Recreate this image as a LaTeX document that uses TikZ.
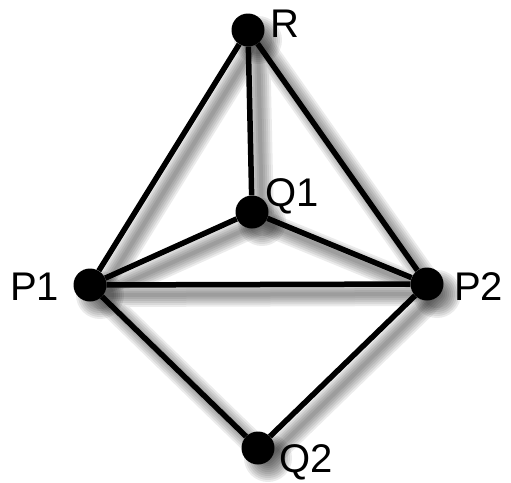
\documentclass[tikz,border=0pt]{standalone}
\usepackage{fontspec}
\setmainfont{Liberation Sans}
\usetikzlibrary{backgrounds}

\begin{document}
\begin{tikzpicture}[x=1pt, y=-1pt,
    vertex/.style={circle, fill=black, minimum size=33pt, inner sep=0pt},
    lbl/.style={font=\fontsize{40}{40}\selectfont, inner sep=0pt, anchor=base west},
    link/.style={line width=5.5pt},
    haze/.style={line width=#1, draw=black, opacity=0.08, line cap=round, line join=round}]
    \useasboundingbox (0,0) rectangle (511,482);

    \node[vertex] (R)  at (248,30)  {};
    \node[vertex] (Q1) at (252,212) {};
    \node[vertex] (P1) at (90,285)  {};
    \node[vertex] (P2) at (427,284) {};
    \node[vertex] (Q2) at (258,448) {};

    \node[lbl] (lR)  at (270,37)  {R};
    \node[lbl] (lQ1) at (265,206) {Q1};
    \node[lbl] (lP1) at (10,300)  {P1};
    \node[lbl] (lP2) at (454,300) {P2};
    \node[lbl] (lQ2) at (279,472) {Q2};

    \draw[link] (R) -- (P1)
                (R) -- (P2)
                (R) -- (Q1)
                (Q1) -- (P1)
                (Q1) -- (P2)
                (P1) -- (P2)
                (P1) -- (Q2)
                (P2) -- (Q2);

    % soft shadow
    \foreach \n in {R,Q1,P1,P2,Q2}
        \coordinate (s\n) at ([shift={(10,10)}]\n.center);
    \begin{scope}[on background layer]
    \foreach \w in {4,8,12,16,20,24}{
        \draw[haze=\w pt] (sR) -- (sP1) -- (sQ2) -- (sP2) -- cycle
                          (sR) -- (sQ1) (sP1) -- (sQ1) -- (sP2)
                          (sP1) -- (sP2);
        \fill[black, opacity=0.08] (sR) circle (12+\w/2)
                                   (sQ1) circle (12+\w/2)
                                   (sP1) circle (12+\w/2)
                                   (sP2) circle (12+\w/2)
                                   (sQ2) circle (12+\w/2);
    }
    \end{scope}
\end{tikzpicture}
\end{document}
